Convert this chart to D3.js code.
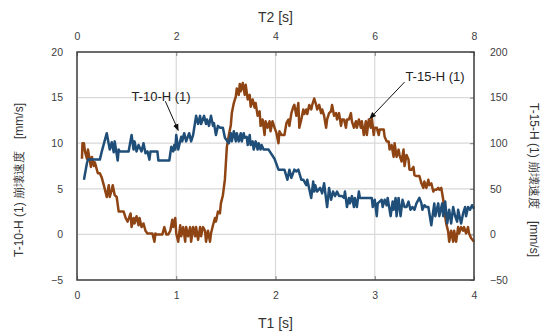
<!DOCTYPE html>
<html>
<head>
<meta charset="utf-8">
<script src="https://cdn.jsdelivr.net/npm/d3@7"></script>
<style>
  body { margin: 0; background: #fff; }
  svg { font-family: "Liberation Sans", Arial, sans-serif; }
</style>
</head>
<body>
<svg id="chart" width="542" height="332"></svg>
<script>
// T-10-H (1): bottom axis T1 [s], left axis [mm/s]
const blueT = [0.07,0.10,0.11,0.23,0.25,0.30,0.33,0.35,0.37,0.38,0.41,0.42,0.43,0.52,0.55,0.57,0.58,0.60,0.62,0.65,0.67,0.69,0.71,0.73,0.74,0.81,0.82,0.93,0.95,0.97,
  0.98,0.99,1.00,1.02,1.05,1.06,1.08,1.10,1.13,1.15,1.17,1.20,1.22,1.24,1.25,1.28,1.30,1.31,1.33,1.35,1.37,1.38,1.40,1.42,1.44,1.47,1.49,1.53,1.55,1.56,
  1.58,1.60,1.61,1.63,1.65,1.66,1.68,1.69,1.71,1.72,1.74,1.75,1.77,1.78,1.80,1.82,1.83,1.85,1.86,1.88,1.93,1.99,2.03,2.06,2.09,2.12,2.14,2.16,2.19,2.21,
  2.23,2.26,2.28,2.31,2.32,2.36,2.38,2.39,2.40,2.42,2.45,2.47,2.49,2.52,2.54,2.56,2.58,2.60,2.62,2.64,2.67,2.69,2.70,2.72,2.74,2.75,2.77,2.79,2.80,2.82,
  2.84,2.85,2.97,2.98,3.00,3.02,3.03,3.07,3.08,3.10,3.12,3.13,3.16,3.18,3.19,3.21,3.22,3.24,3.26,3.28,3.30,3.32,3.34,3.36,3.38,3.40,3.42,3.45,3.47,3.48,
  3.50,3.52,3.54,3.57,3.60,3.61,3.64,3.65,3.68,3.69,3.71,3.73,3.75,3.77,3.79,3.81,3.83,3.84,3.87,3.89,3.91,3.92,3.94,3.96,3.98,4.00];
const blueV = [6.0,7.8,8.2,8.2,9.1,11.1,9.3,10.1,9.0,10.2,8.1,9.3,9.1,9.1,10.9,9.3,10.2,9.1,9.8,9.1,10.0,8.9,9.1,8.2,9.1,9.1,8.1,8.1,9.6,9.1,
  9.8,9.3,10.9,9.3,10.7,10.2,11.1,10.2,11.1,10.2,10.9,13.0,12.1,13.0,12.1,13.0,12.1,12.6,11.9,13.0,11.9,12.2,10.9,11.9,11.7,11.7,10.6,10.0,11.1,10.2,
  11.3,10.2,11.1,10.2,11.1,10.2,11.1,10.6,10.7,9.8,10.9,9.8,10.2,9.3,10.2,9.3,10.0,9.3,9.8,9.3,9.3,8.3,7.1,7.1,7.1,6.0,7.1,6.2,7.1,6.9,
  7.1,6.0,6.0,5.4,6.0,4.0,5.8,4.7,5.4,4.7,5.1,4.5,5.6,3.0,5.1,3.8,4.7,4.2,4.7,4.2,4.2,4.0,4.7,3.0,4.0,3.4,4.2,3.0,4.0,3.0,
  4.7,4.0,4.0,3.0,3.8,2.0,3.4,3.8,3.0,3.8,3.2,4.0,2.0,3.6,2.7,4.0,2.0,4.0,2.0,3.8,3.0,3.0,3.6,2.7,3.0,2.7,3.4,4.0,3.4,2.7,
  3.2,3.0,3.0,1.0,3.4,2.0,3.4,2.0,3.4,2.0,3.6,1.2,2.7,1.2,3.0,2.0,1.4,2.7,1.2,2.3,3.0,2.0,3.0,2.7,3.2,2.8];

// T-15-H (1): top axis T2 [s], right axis [mm/s]
const brownT = [0.10,0.11,0.14,0.16,0.20,0.22,0.28,0.30,0.34,0.36,0.42,0.46,0.50,0.54,0.60,0.64,0.66,0.70,0.72,0.76,0.80,0.84,0.90,0.94,0.98,1.02,1.08,1.10,1.14,1.16,
  1.20,1.24,1.26,1.30,1.34,1.38,1.42,1.46,1.52,1.56,1.58,1.60,1.72,1.76,1.80,1.84,1.88,1.92,1.94,1.98,2.00,2.04,2.08,2.10,2.14,2.18,2.20,2.24,2.28,2.30,
  2.34,2.38,2.40,2.44,2.48,2.50,2.54,2.58,2.60,2.64,2.68,2.70,2.74,2.78,2.80,2.84,2.88,2.90,2.94,2.98,3.00,3.02,3.06,3.10,3.12,3.16,3.20,3.22,3.26,3.28,
  3.30,3.34,3.38,3.40,3.44,3.48,3.50,3.54,3.58,3.60,3.64,3.68,3.70,3.74,3.78,3.80,3.84,3.88,3.90,3.94,3.98,4.02,4.06,4.08,4.12,4.18,4.22,4.26,4.28,4.32,
  4.36,4.38,4.42,4.46,4.48,4.52,4.56,4.58,4.62,4.64,4.68,4.72,4.74,4.78,4.82,4.84,4.88,4.92,4.94,4.98,5.02,5.04,5.08,5.12,5.14,5.18,5.22,5.24,5.28,5.32,
  5.34,5.38,5.42,5.44,5.48,5.52,5.54,5.58,5.62,5.64,5.68,5.72,5.74,5.78,5.82,5.84,5.88,5.92,5.94,5.98,6.00,6.04,6.08,6.10,6.18,6.20,6.24,6.28,6.30,6.34,
  6.38,6.40,6.44,6.48,6.50,6.54,6.58,6.60,6.64,6.68,6.70,6.74,6.78,6.80,6.84,6.90,6.94,6.98,7.00,7.04,7.08,7.10,7.14,7.18,7.20,7.24,7.28,7.30,7.34,7.38,
  7.40,7.44,7.48,7.50,7.54,7.58,7.60,7.64,7.68,7.70,7.74,7.78,7.80,7.84,7.88,7.90,7.94,8.00];
const brownV = [83,100,100,91,83,93,74,85,75,79,67,67,62,54,41,54,41,49,54,43,41,25,25,25,18,14,23,8,18,12,
  20,10,18,8,12,4,1,1,1,-8,1,0,0,8,0,0,4,16,8,18,1,-8,10,-2,8,-8,8,-2,8,-8,
  8,-2,8,-6,8,-2,8,4,-8,4,-8,1,10,18,14,25,23,34,43,60,78,96,109,120,133,144,151,160,153,165,
  157,166,153,164,148,153,140,148,139,144,130,135,119,126,109,124,117,124,113,124,117,111,100,113,109,109,122,126,119,133,
  140,142,130,144,117,126,137,132,137,132,142,137,142,149,142,137,142,133,137,130,117,126,133,135,142,130,133,126,133,119,
  126,126,117,126,126,133,124,117,124,117,126,117,124,109,124,109,126,117,128,109,117,117,109,115,115,107,102,102,93,98,
  85,100,85,93,87,80,93,75,87,82,71,71,74,65,64,64,56,51,58,51,60,54,56,47,49,49,51,49,51,38,
  27,12,3,-8,4,-8,4,-8,8,1,8,4,8,1,8,1,-4,-8];

const t1Ticks = [0, 1, 2, 3, 4];
const t2Ticks = [0, 2, 4, 6, 8];
const leftTicks = [-5, 0, 5, 10, 15, 20];
const rightTicks = [-50, 0, 50, 100, 150, 200];

const svg = d3.select("#chart");
const pLeft = 77, pRight = 474, pTop = 52, pBottom = 280;

const x1 = d3.scaleLinear().domain([0, 4]).range([pLeft, pRight]);
const x2 = d3.scaleLinear().domain([0, 8]).range([pLeft, pRight]);
const yL = d3.scaleLinear().domain([-5, 20]).range([pBottom, pTop]);
const yR = d3.scaleLinear().domain([-50, 200]).range([pBottom, pTop]);

// grid
svg.append("g").selectAll("line").data(leftTicks).enter().append("line")
  .attr("x1", pLeft).attr("x2", pRight)
  .attr("y1", d => yL(d)).attr("y2", d => yL(d))
  .attr("stroke", "#d9d9d9").attr("stroke-width", 1.2);
svg.append("g").selectAll("line").data(t1Ticks).enter().append("line")
  .attr("x1", d => x1(d)).attr("x2", d => x1(d))
  .attr("y1", pTop).attr("y2", pBottom)
  .attr("stroke", "#d9d9d9").attr("stroke-width", 1.2);

// axes (labels only, border drawn separately)
function styleAxis(g) {
  g.select(".domain").remove();
  g.selectAll("text").attr("fill", "#404040").style("font-size", "10.5px");
}
svg.append("g").attr("transform", "translate(0," + pBottom + ")")
  .call(d3.axisBottom(x1).tickValues(t1Ticks).tickFormat(d3.format("d")).tickSize(-4).tickPadding(12))
  .call(styleAxis);
svg.append("g").attr("transform", "translate(0," + pTop + ")")
  .call(d3.axisTop(x2).tickValues(t2Ticks).tickFormat(d3.format("d")).tickSize(-4).tickPadding(12))
  .call(styleAxis);
svg.append("g").attr("transform", "translate(" + pLeft + ",0)")
  .call(d3.axisLeft(yL).tickValues(leftTicks).tickFormat(d3.format("d")).tickSize(0).tickPadding(14))
  .call(styleAxis);
svg.append("g").attr("transform", "translate(" + pRight + ",0)")
  .call(d3.axisRight(yR).tickValues(rightTicks).tickFormat(d3.format("d")).tickSize(-4).tickPadding(16))
  .call(styleAxis);
svg.selectAll(".tick line").attr("stroke", "#7f7f7f");

// lines
const blueData = blueT.map((t, i) => [t, blueV[i]]);
const brownData = brownT.map((t, i) => [t, brownV[i]]);

svg.append("path").datum(brownData)
  .attr("fill", "none").attr("stroke", "#8e4413").attr("stroke-width", 2.5)
  .attr("stroke-linejoin", "round")
  .attr("d", d3.line().x(d => x2(d[0])).y(d => yR(d[1])));
svg.append("path").datum(blueData)
  .attr("fill", "none").attr("stroke", "#1f4e79").attr("stroke-width", 2.5)
  .attr("stroke-linejoin", "round")
  .attr("d", d3.line().x(d => x1(d[0])).y(d => yL(d[1])));

// border
svg.append("rect").attr("x", pLeft).attr("y", pTop)
  .attr("width", pRight - pLeft).attr("height", pBottom - pTop)
  .attr("fill", "none").attr("stroke", "#404040").attr("stroke-width", 1.5);

// axis titles
svg.append("text").attr("x", (pLeft + pRight) / 2).attr("y", 22)
  .attr("text-anchor", "middle").attr("fill", "#333").style("font-size", "14px").text("T2 [s]");
svg.append("text").attr("x", (pLeft + pRight) / 2).attr("y", 328)
  .attr("text-anchor", "middle").attr("fill", "#333").style("font-size", "14px").text("T1 [s]");
svg.append("text").attr("transform", "translate(23,180) rotate(-90)")
  .attr("text-anchor", "middle").attr("fill", "#333").style("font-size", "12px")
  .text("T-10-H (1) 崩壊速度　[mm/s]");
svg.append("text").attr("transform", "translate(530,180) rotate(90)")
  .attr("text-anchor", "middle").attr("fill", "#333").style("font-size", "12px")
  .text("T-15-H (1) 崩壊速度　[mm/s]");

// annotations
svg.append("defs").append("marker").attr("id", "arrow")
  .attr("viewBox", "0 0 10 10").attr("refX", 9).attr("refY", 5)
  .attr("markerWidth", 7).attr("markerHeight", 7).attr("orient", "auto")
  .append("path").attr("d", "M0,1 L10,5 L0,9 Z").attr("fill", "#111");

svg.append("text").attr("x", 161).attr("y", 101).attr("text-anchor", "middle")
  .attr("fill", "#222").style("font-size", "13px").text("T-10-H (1)");
svg.append("line").attr("x1", x1(0.89)).attr("y1", yL(14.6)).attr("x2", x1(1.02)).attr("y2", yL(11.4))
  .attr("stroke", "#111").attr("stroke-width", 1).attr("marker-end", "url(#arrow)");

svg.append("text").attr("x", 435).attr("y", 81).attr("text-anchor", "middle")
  .attr("fill", "#222").style("font-size", "13px").text("T-15-H (1)");
svg.append("line").attr("x1", x2(6.6)).attr("y1", yR(167)).attr("x2", x2(5.9)).attr("y2", yR(127))
  .attr("stroke", "#111").attr("stroke-width", 1).attr("marker-end", "url(#arrow)");
</script>
</body>
</html>
